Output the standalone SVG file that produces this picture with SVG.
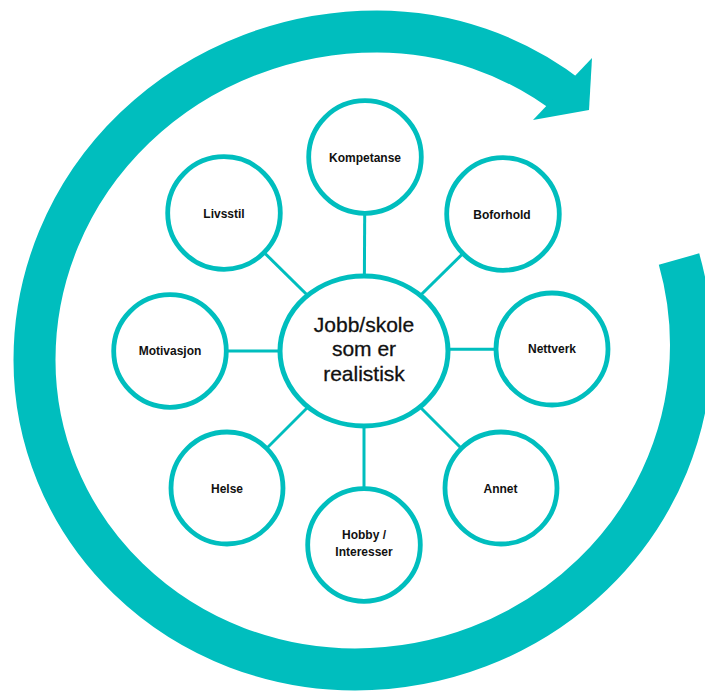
<svg xmlns="http://www.w3.org/2000/svg" width="705" height="691" viewBox="0 0 705 691">
  <style>
    .band { fill: none; stroke: #00BEBE; stroke-width: 42; stroke-linecap: butt; }
    .head { fill: #00BEBE; }
    .conn { stroke: #00BEBE; stroke-width: 3; fill: none; }
    .node { fill: #FFFFFF; stroke: #00BEBE; stroke-width: 4.8; }
    .hub { fill: #FFFFFF; stroke: #00BEBE; stroke-width: 5; }
    .lbl { font-family: "Liberation Sans", Arial, sans-serif; font-size: 12px; font-weight: bold; fill: #111111; text-anchor: middle; }
    .hubl { font-family: "Liberation Sans", Arial, sans-serif; font-size: 21px; fill: #111111; stroke: #111111; stroke-width: 0.3; text-anchor: middle; }
  </style>
  <rect width="705" height="691" fill="#FFFFFF"/>

  <g id="cycle-arrow">
    <path class="band" d="M 679 259.1 A 314 313.5 0 0 1 691 345 A 336 324.5 0 0 1 355 669.5 A 320.5 309.5 0 0 1 34.5 360 A 342.5 328.5 0 0 1 377 31.5 A 314 313.5 0 0 1 570.3 98"/>
    <polygon class="head" points="592,58 589,110 533,120"/>
  </g>

  <g id="connectors">
    <line class="conn" x1="364" y1="351" x2="365" y2="157"/>
    <line class="conn" x1="364" y1="351" x2="224" y2="213"/>
    <line class="conn" x1="364" y1="351" x2="503" y2="214"/>
    <line class="conn" x1="364" y1="351" x2="170" y2="351"/>
    <line class="conn" x1="364" y1="349.3" x2="552" y2="349.3"/>
    <line class="conn" x1="364" y1="351" x2="227" y2="488"/>
    <line class="conn" x1="364" y1="351" x2="501" y2="488"/>
    <line class="conn" x1="364" y1="351" x2="364" y2="545"/>
  </g>

  <g id="node-kompetanse">
    <circle class="node" cx="365" cy="157" r="56.3"/>
    <text class="lbl" x="365" y="161.5">Kompetanse</text>
  </g>
  <g id="node-livsstil">
    <circle class="node" cx="224" cy="213" r="56.3"/>
    <text class="lbl" x="224" y="217.5">Livsstil</text>
  </g>
  <g id="node-boforhold">
    <circle class="node" cx="503" cy="214" r="56.3"/>
    <text class="lbl" x="502" y="218.5">Boforhold</text>
  </g>
  <g id="node-motivasjon">
    <circle class="node" cx="170" cy="351" r="56.3"/>
    <text class="lbl" x="170" y="355">Motivasjon</text>
  </g>
  <g id="node-nettverk">
    <circle class="node" cx="552" cy="349" r="56"/>
    <text class="lbl" x="552" y="353.3">Nettverk</text>
  </g>
  <g id="node-helse">
    <circle class="node" cx="227" cy="488" r="56"/>
    <text class="lbl" x="227" y="492.5">Helse</text>
  </g>
  <g id="node-annet">
    <circle class="node" cx="501" cy="488" r="56"/>
    <text class="lbl" x="500.5" y="492.5">Annet</text>
  </g>
  <g id="node-hobby">
    <circle class="node" cx="364" cy="545" r="56.3"/>
    <text class="lbl" x="364" y="539">Hobby /</text>
    <text class="lbl" x="364" y="556">Interesser</text>
  </g>
  <g id="node-center">
    <ellipse class="hub" cx="364" cy="351" rx="84" ry="75"/>
    <text class="hubl" x="364" y="331.5">Jobb/skole</text>
    <text class="hubl" x="364" y="356">som er</text>
    <text class="hubl" x="364" y="380.5">realistisk</text>
  </g>
</svg>
